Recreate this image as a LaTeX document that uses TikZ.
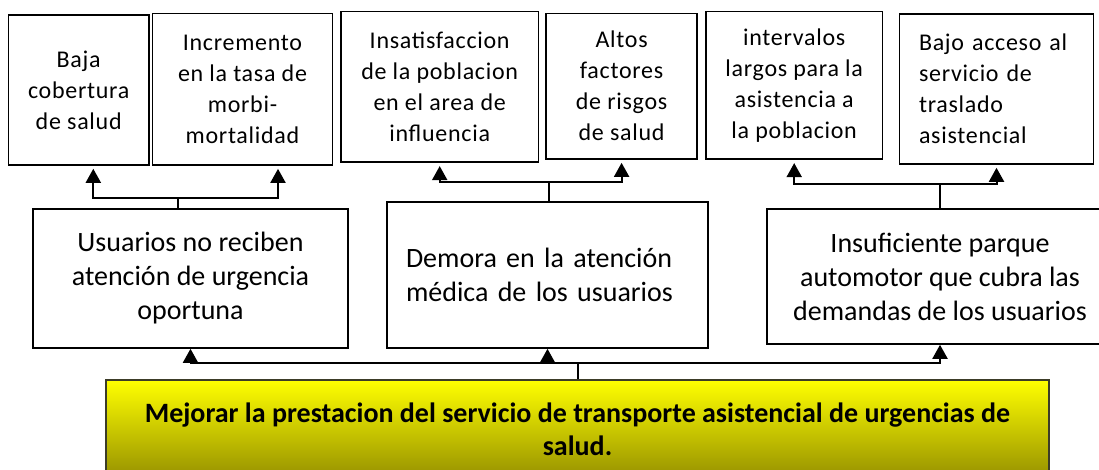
\documentclass[tikz,border=0pt]{standalone}
\usepackage{fontspec}
\setmainfont{Carlito}
\newfontfamily\topfont[LetterSpace=3]{Carlito}
\usetikzlibrary{arrows.meta}
\definecolor{olivedark}{RGB}{150,145,0}
\definecolor{yellowmid}{RGB}{238,238,0}
\begin{document}
\begin{tikzpicture}[x=1pt,y=-1pt,
  box/.style={draw=black, line width=1.6pt, inner sep=0pt, align=center, fill=white},
  topbox/.style={box, font=\topfont\fontsize{24}{31}\selectfont},
  midbox/.style={box, font=\fontsize{28}{34}\selectfont},
  conn/.style={line width=2pt, draw=black},
  arr/.style={conn, -{Triangle[width=15pt,length=14pt]}},
  uparr/.style={arr, shorten >=3pt},
  goalbox/.style={draw={rgb,255:red,60;green,60;blue,40}, line width=1.2pt, inner sep=0pt, align=center,
    top color=yellow, middle color=yellowmid, bottom color=olivedark,
    font=\bfseries\fontsize{28}{33}\selectfont}
]
\fill[white] (0,0) rectangle (1099,470);
\clip (0,0) rectangle (1099,470);

% top row
\node[topbox, minimum width=140.6pt, minimum height=150pt] (b1) at (78.7,90) {Baja\\cobertura\\de salud};
\node[topbox, minimum width=180pt, minimum height=151.7pt] (b2) at (242.5,89.2) {Incremento\\en la tasa de\\morbi-\\mortalidad};
\node[topbox, minimum width=197.4pt, minimum height=150.6pt] (b3) at (439.7,87) {Insatisfaccion\\de la poblacion\\en el area de\\influencia};
\node[topbox, minimum width=151.3pt, minimum height=145.7pt] (b4) at (621.6,86.2) {Altos\\factores\\de risgos\\de salud};
\node[topbox, minimum width=176.5pt, minimum height=147.6pt] (b5) at (794.2,85.5) {intervalos\\largos para la\\asistencia a\\la poblacion};
\node[topbox, align=left, text width=155pt, inner xsep=19.5pt, minimum height=150pt] (b6) at (996.5,89) {Bajo acceso al\\servicio de\\traslado\\asistencial};

% middle row
\node[midbox, minimum width=315pt, minimum height=139pt] (m1) at (190.5,278.5) {Usuarios no reciben\\atención de urgencia\\oportuna};
\node[midbox, align=left, text width=283pt, inner xsep=19pt, minimum height=146pt] (m2) at (547.5,275) {Demora en la atención\\médica de los usuarios};
\node[midbox, minimum width=346pt, minimum height=135pt] (m3) at (940,276.5) {Insuficiente parque\\automotor que cubra las\\demandas de los usuarios};

% goal
\node[goalbox, minimum width=943pt, minimum height=98pt] (goal) at (577.5,429) {Mejorar la prestacion del servicio de transporte asistencial de urgencias de\\salud.};

% junctions
\coordinate (a1) at (93.3,0);
\coordinate (a2) at (278,0);
\coordinate (j1) at (178,198.3);
\coordinate (j2) at (548.5,182);
\coordinate (j3) at (939.5,184);
\coordinate (j4) at (578,362.5);

% group 1
\draw[conn] (j1 |- m1.north) -- (j1);
\draw[uparr] (j1) -| (a1 |- b1.south);
\draw[uparr] (j1) -| (a2 |- b2.south);
% group 2
\draw[conn] (j2 |- m2.north) -- (j2);
\draw[uparr] (j2) -| (b3.south);
\draw[uparr] (j2) -| (b4.south);
% group 3
\draw[conn] (j3 |- m3.north) -- (j3);
\draw[uparr] (j3) -| (b5.south);
\draw[uparr] (j3) -| (b6.south);
% bottom
\draw[conn] (goal.north -| j4) -- (j4);
\draw[arr] (j4) -| (m1.south);
\draw[arr] (j4) -| (m2.south);
\draw[arr] (j4) -| (m3.south);
\end{tikzpicture}
\end{document}
